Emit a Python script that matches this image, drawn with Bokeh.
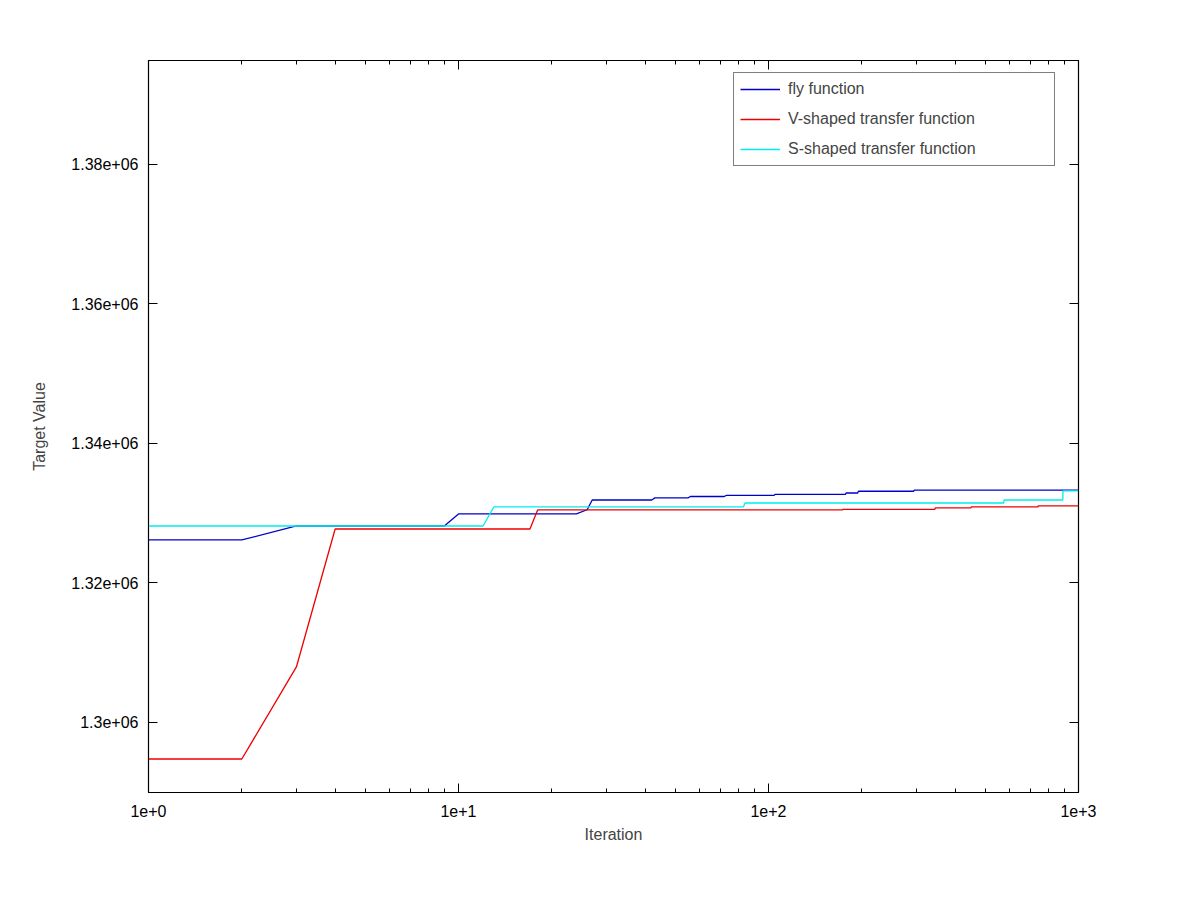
from bokeh.plotting import figure
from bokeh.models import LogAxis, LinearAxis, FixedTicker, Range1d, Legend, LegendItem
from bokeh.embed import file_html
from bokeh.resources import INLINE

fly_x = [1, 2, 3, 9, 10, 24, 26, 27, 42, 43, 55, 56, 72, 73, 104, 105, 177, 178, 194, 195, 294, 295, 1000]
fly_y = [1326170, 1326170, 1328170, 1328170, 1329900, 1329900, 1330500, 1331900, 1331900, 1332200, 1332200, 1332400, 1332400, 1332550, 1332550, 1332700, 1332700, 1332900, 1332900, 1333150, 1333150, 1333300, 1333300]

v_x = [1, 2, 3, 4, 17, 18, 173, 174, 344, 345, 450, 451, 740, 741, 1000]
v_y = [1294760, 1294760, 1307960, 1327740, 1327740, 1330470, 1330470, 1330550, 1330550, 1330760, 1330760, 1330900, 1330900, 1331050, 1331050]

s_x = [1, 12, 13, 83, 84, 574, 575, 890, 891, 1000]
s_y = [1328170, 1328170, 1330900, 1330900, 1331470, 1331470, 1331900, 1331900, 1333200, 1333200]

x_ticks = [1, 10, 100, 1000]
x_tick_labels = ["1e+0", "1e+1", "1e+2", "1e+3"]
y_ticks = [1300000, 1320000, 1340000, 1360000, 1380000]
y_tick_labels = ["1.3e+06", "1.32e+06", "1.34e+06", "1.36e+06", "1.38e+06"]

FONT = "Liberation Sans"
minor = [m * d for d in [1, 10, 100] for m in range(2, 10)]

p = figure(x_axis_type="log", output_backend="svg", toolbar_location=None,
           frame_width=930, frame_height=732, width=1184, height=884,
           min_border_left=148, min_border_right=106, min_border_top=60, min_border_bottom=92,
           x_range=Range1d(1, 1000), y_range=Range1d(1289960, 1394910))
p.grid.visible = False
p.outline_line_color = "black"
p.outline_line_width = 1.2

def style(ax, labels=True):
    ax.axis_line_color = "black"
    ax.major_tick_in = 9
    ax.major_tick_out = 0
    ax.minor_tick_in = 4
    ax.minor_tick_out = 0
    ax.major_label_text_font = FONT
    ax.major_label_text_font_size = "16px"
    ax.major_label_text_color = "black"
    ax.axis_label_text_font = FONT
    ax.axis_label_text_font_size = "16px"
    ax.axis_label_text_font_style = "normal"
    if not labels:
        ax.major_label_text_alpha = 0

xa = p.xaxis[0]
xa.ticker = FixedTicker(ticks=x_ticks, minor_ticks=minor)
xa.major_label_overrides = {t: l for t, l in zip(x_ticks, x_tick_labels)}
xa.axis_label = "Iteration"
xa.major_label_standoff = 12
xa.axis_label_standoff = 6
style(xa)

ya = p.yaxis[0]
ya.ticker = FixedTicker(ticks=y_ticks)
ya.major_label_overrides = {t: l for t, l in zip(y_ticks, y_tick_labels)}
ya.axis_label = "Target Value"
ya.major_label_standoff = 10
ya.axis_label_standoff = 20
style(ya)
ya.minor_tick_in = 0

xt = LogAxis(ticker=FixedTicker(ticks=x_ticks, minor_ticks=minor))
style(xt, labels=False)
p.add_layout(xt, "above")
yr = LinearAxis(ticker=FixedTicker(ticks=y_ticks))
style(yr, labels=False)
yr.minor_tick_in = 0
p.add_layout(yr, "right")

r1 = p.line(fly_x, fly_y, line_color="#0000cc", line_width=1.3)
r2 = p.line(v_x, v_y, line_color="#ee0000", line_width=1.3)
r3 = p.line(s_x, s_y, line_color="#00eeee", line_width=1.3)

legend = Legend(items=[LegendItem(label="fly function", renderers=[r1]),
                       LegendItem(label="V-shaped transfer function", renderers=[r2]),
                       LegendItem(label="S-shaped transfer function", renderers=[r3])],
                location=(585, 626))
legend.border_line_color = "black"
legend.border_line_width = 1.2
legend.label_text_font = FONT
legend.label_text_font_size = "16px"
legend.glyph_width = 40
legend.label_width = 260
legend.spacing = 10
legend.padding = 6
legend.margin = 0
legend.label_standoff = 8
p.add_layout(legend, "center")

open("out.html", "w").write(file_html(p, INLINE))
